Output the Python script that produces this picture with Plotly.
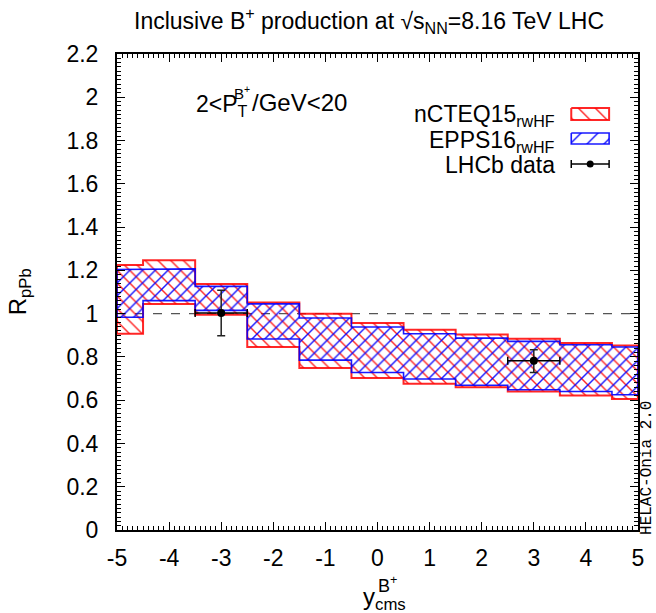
import plotly.graph_objects as go

# ---------------- data ----------------
bin_edges = [-5, -4.5, -3.5, -2.5, -1.5, -0.5, 0.5, 1.5, 2.5, 3.5, 4.5, 5]
ncteq_upper = [1.225, 1.247, 1.137, 1.052, 1.000, 0.957, 0.926, 0.903, 0.884, 0.864, 0.853]
ncteq_lower = [0.907, 1.045, 0.995, 0.846, 0.749, 0.702, 0.676, 0.660, 0.640, 0.622, 0.606]
epps_upper = [1.204, 1.207, 1.126, 1.045, 0.980, 0.938, 0.907, 0.887, 0.872, 0.856, 0.846]
epps_lower = [0.983, 1.060, 1.015, 0.883, 0.785, 0.728, 0.698, 0.669, 0.648, 0.640, 0.625]

lhcb_x = [-3.0, 3.0]
lhcb_y = [1.003, 0.782]
lhcb_yerr_plus = [0.105, 0.051]
lhcb_yerr_minus = [0.105, 0.054]
lhcb_xerr = [0.5, 0.5]

x_tick_vals = [-5, -4, -3, -2, -1, 0, 1, 2, 3, 4, 5]
x_tick_text = ["-5", "-4", "-3", "-2", "-1", "0", "1", "2", "3", "4", "5"]
y_tick_vals = [0, 0.2, 0.4, 0.6, 0.8, 1, 1.2, 1.4, 1.6, 1.8, 2, 2.2]
y_tick_text = ["0", "0.2", "0.4", "0.6", "0.8", "1", "1.2", "1.4", "1.6", "1.8", "2", "2.2"]

# ---------------- layout geometry (pixels) ----------------
W, H = 656, 613
L, R, T, B = 117, 640, 54, 530
PW, PH = R - L, B - T
FONT = "Liberation Sans"


def px(xp):
    return (xp - L) / PW


def py(yp):
    return (B - yp) / PH


def band_polygon(edges, lo, hi):
    xs, ys = [], []
    for i in range(len(hi)):
        xs += [edges[i], edges[i + 1]]
        ys += [hi[i], hi[i]]
    for i in reversed(range(len(lo))):
        xs += [edges[i + 1], edges[i]]
        ys += [lo[i], lo[i]]
    xs.append(xs[0])
    ys.append(ys[0])
    return xs, ys


RED = "rgba(255,0,0,0.85)"
BLUE = "rgba(0,0,255,0.9)"

fig = go.Figure()

xs, ys = band_polygon(bin_edges, ncteq_lower, ncteq_upper)
fig.add_trace(go.Scatter(
    x=xs, y=ys, mode="lines", fill="toself",
    line=dict(color=RED, width=2),
    fillcolor="rgba(0,0,0,0)",
    fillpattern=dict(shape="\\", fgcolor=RED, bgcolor="rgba(0,0,0,0)",
                     size=9, solidity=0.16, fillmode="replace"),
    showlegend=False, hoverinfo="skip"))

xs, ys = band_polygon(bin_edges, epps_lower, epps_upper)
fig.add_trace(go.Scatter(
    x=xs, y=ys, mode="lines", fill="toself",
    line=dict(color=BLUE, width=1.6),
    fillcolor="rgba(0,0,0,0)",
    fillpattern=dict(shape="/", fgcolor=BLUE, bgcolor="rgba(0,0,0,0)",
                     size=9, solidity=0.16, fillmode="replace"),
    showlegend=False, hoverinfo="skip"))

fig.add_trace(go.Scatter(
    x=lhcb_x, y=lhcb_y, mode="markers",
    marker=dict(color="black", size=8),
    error_y=dict(type="data", symmetric=False, array=lhcb_yerr_plus,
                 arrayminus=lhcb_yerr_minus, color="#222222", thickness=1.5, width=4),
    error_x=dict(type="data", array=lhcb_xerr, color="black", thickness=1.5, width=4),
    showlegend=False, hoverinfo="skip"))

# ---------------- custom legend keys (pixel overlay axes) ----------------
key_x0, key_x1 = 573, 611
fig.add_trace(go.Scatter(
    x=[key_x0, key_x1, key_x1, key_x0, key_x0], y=[108, 108, 120, 120, 108],
    xaxis="x2", yaxis="y2", mode="lines", fill="toself",
    line=dict(color=RED, width=2), fillcolor="rgba(0,0,0,0)",
    fillpattern=dict(shape="\\", fgcolor=RED, bgcolor="rgba(0,0,0,0)",
                     size=12, solidity=0.12, fillmode="replace"),
    showlegend=False, hoverinfo="skip"))
fig.add_trace(go.Scatter(
    x=[key_x0, key_x1, key_x1, key_x0, key_x0], y=[133, 133, 144, 144, 133],
    xaxis="x2", yaxis="y2", mode="lines", fill="toself",
    line=dict(color=BLUE, width=1.6), fillcolor="rgba(0,0,0,0)",
    fillpattern=dict(shape="/", fgcolor=BLUE, bgcolor="rgba(0,0,0,0)",
                     size=12, solidity=0.12, fillmode="replace"),
    showlegend=False, hoverinfo="skip"))
fig.add_trace(go.Scatter(
    x=[(key_x0 + key_x1) / 2], y=[164], xaxis="x2", yaxis="y2", mode="markers",
    marker=dict(color="black", size=7),
    error_x=dict(type="constant", value=(key_x1 - key_x0) / 2, color="black",
                 thickness=1.5, width=4),
    showlegend=False, hoverinfo="skip"))

# dashed reference line at 1
fig.add_shape(type="line", xref="x", yref="y", x0=bin_edges[0], x1=bin_edges[-1],
              y0=1, y1=1, line=dict(color="#555555", width=1.2, dash="dash"), layer="below")

axis_common = dict(
    showline=True, linecolor="black", linewidth=2, mirror="ticks",
    ticks="inside", ticklen=8, tickwidth=1.2, tickcolor="black",
    showgrid=False, zeroline=False,
    tickfont=dict(family=FONT, size=23, color="black"),
)

fig.update_layout(
    width=W, height=H,
    margin=dict(l=L, r=W - R, t=T, b=H - B),
    paper_bgcolor="white", plot_bgcolor="white",
    showlegend=False,
    font=dict(family=FONT, color="black"),
    xaxis=dict(range=[-5, 5], tickvals=x_tick_vals, ticktext=x_tick_text,
               minor=dict(dtick=0.1, ticklen=4, tickwidth=1, tickcolor="black", ticks="inside"),
               ticklabelstandoff=6, **axis_common),
    yaxis=dict(range=[0, 2.2], tickvals=y_tick_vals, ticktext=y_tick_text,
               minor=dict(dtick=0.02, ticklen=4, tickwidth=1, tickcolor="black", ticks="inside"),
               ticklabelstandoff=12, **axis_common),
    xaxis2=dict(range=[L, R], overlaying="x", visible=False, anchor="y2"),
    yaxis2=dict(range=[B, T], overlaying="y", visible=False, anchor="x2"),
    title=dict(text="Inclusive B<sup>+</sup> production at √s<sub>NN</sub>=8.16 TeV LHC",
               x=px(370), xanchor="center", xref="paper",
               y=1 - 21 / H, yanchor="middle", yref="container",
               font=dict(family=FONT, size=23, color="black")),
)

ann = []
def add_text(text, xp, yp, size=22, xanchor="center", yanchor="middle", angle=0,
             family=FONT, color="black"):
    ann.append(dict(text=text, x=px(xp), y=py(yp), xref="paper", yref="paper",
                    xanchor=xanchor, yanchor=yanchor, showarrow=False, textangle=angle,
                    font=dict(family=family, size=size, color=color)))

# y-axis title
add_text("R<sub>pPb</sub>", 19, 292, size=24, angle=-90)
# x-axis title
add_text("y<sub>cms</sub>", 362, 598, size=24, xanchor="left")
add_text("B<sup>+</sup>", 377, 584, size=18, xanchor="left")
# kinematic cut label
add_text("2&lt;P<sub>T</sub>", 194, 106, size=23, xanchor="left")
add_text("B<sup>+</sup>", 232, 92, size=15, xanchor="left")
add_text("/GeV&lt;20", 251, 103, size=24, xanchor="left")
# legend texts
add_text("nCTEQ15<sub>rwHF</sub>", 559, 115, size=23, xanchor="right")
add_text("EPPS16<sub>rwHF</sub>", 559, 141, size=23, xanchor="right")
add_text("LHCb data", 559, 165, size=23, xanchor="right")
# program tag
add_text("HELAC-Onia 2.0", 649, 468, size=16, angle=-90, family="Liberation Mono")

fig.update_layout(annotations=ann)

fig.write_html("out.html")
